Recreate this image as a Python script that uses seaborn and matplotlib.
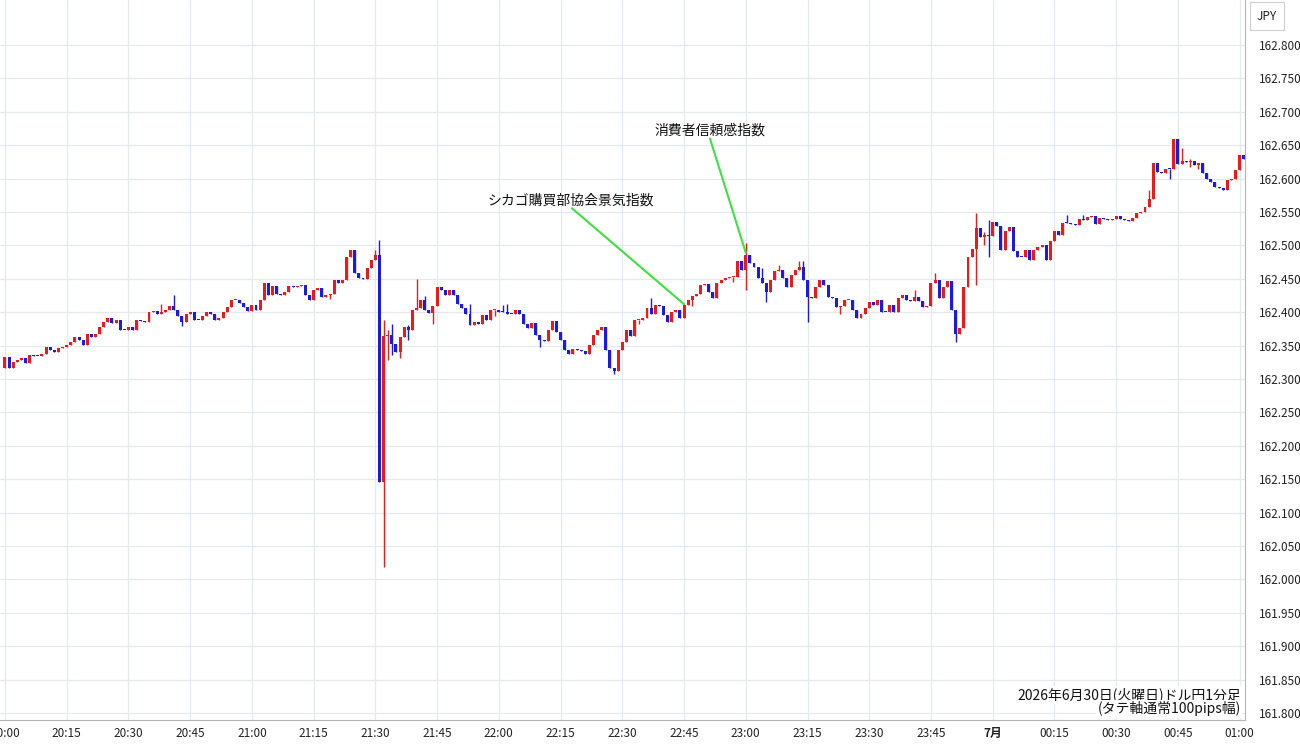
import numpy as np
import pandas as pd
import matplotlib
matplotlib.use("Agg")
import matplotlib.pyplot as plt
import seaborn as sns

# USD/JPY 1-minute candles, 2026-06-30 20:00 -> 07-01 01:01
first_open = 162.316
closes = [
    162.333, 162.316, 162.326, 162.328, 162.331, 162.324, 162.336, 162.335, 162.334, 162.338,
    162.348, 162.343, 162.341, 162.346, 162.348, 162.351, 162.356, 162.363, 162.358, 162.351,
    162.368, 162.363, 162.368, 162.378, 162.386, 162.391, 162.384, 162.389, 162.374, 162.373,
    162.378, 162.373, 162.388, 162.387, 162.386, 162.401, 162.402, 162.397, 162.400, 162.403,
    162.409, 162.403, 162.394, 162.386, 162.398, 162.400, 162.389, 162.388, 162.395, 162.401,
    162.398, 162.389, 162.391, 162.401, 162.408, 162.418, 162.419, 162.414, 162.408, 162.402,
    162.411, 162.403, 162.418, 162.443, 162.426, 162.439, 162.428, 162.426, 162.431, 162.439,
    162.438, 162.439, 162.441, 162.426, 162.418, 162.433, 162.436, 162.423, 162.426, 162.428,
    162.448, 162.443, 162.448, 162.483, 162.493, 162.458, 162.451, 162.450, 162.466, 162.478,
    162.486, 162.146, 162.364, 162.366, 162.353, 162.341, 162.363, 162.378, 162.373, 162.404,
    162.406, 162.419, 162.404, 162.399, 162.409, 162.438, 162.433, 162.426, 162.433, 162.426,
    162.413, 162.406, 162.398, 162.381, 162.386, 162.383, 162.396, 162.388, 162.403, 162.404,
    162.401, 162.400, 162.398, 162.397, 162.403, 162.398, 162.383, 162.376, 162.384, 162.366,
    162.358, 162.357, 162.373, 162.387, 162.371, 162.358, 162.343, 162.338, 162.345, 162.343,
    162.342, 162.338, 162.351, 162.366, 162.373, 162.378, 162.343, 162.316, 162.312, 162.343,
    162.356, 162.373, 162.364, 162.388, 162.389, 162.391, 162.406, 162.398, 162.411, 162.410,
    162.396, 162.386, 162.401, 162.403, 162.392, 162.411, 162.418, 162.424, 162.428, 162.441,
    162.442, 162.431, 162.421, 162.443, 162.448, 162.451, 162.452, 162.453, 162.476, 162.463,
    162.486, 162.473, 162.468, 162.451, 162.443, 162.431, 162.448, 162.461, 162.463, 162.451,
    162.438, 162.456, 162.463, 162.468, 162.448, 162.423, 162.421, 162.438, 162.448, 162.441,
    162.423, 162.421, 162.408, 162.409, 162.418, 162.419, 162.403, 162.391, 162.398, 162.406,
    162.416, 162.411, 162.418, 162.401, 162.400, 162.411, 162.401, 162.421, 162.426, 162.418,
    162.417, 162.423, 162.417, 162.408, 162.409, 162.443, 162.448, 162.421, 162.438, 162.446,
    162.403, 162.368, 162.376, 162.438, 162.483, 162.494, 162.526, 162.513, 162.516, 162.514,
    162.535, 162.529, 162.493, 162.521, 162.528, 162.491, 162.483, 162.482, 162.493, 162.478,
    162.493, 162.498, 162.500, 162.478, 162.506, 162.521, 162.516, 162.534, 162.533, 162.532,
    162.531, 162.539, 162.538, 162.543, 162.544, 162.532, 162.541, 162.539, 162.538, 162.540,
    162.544, 162.539, 162.538, 162.537, 162.541, 162.548, 162.550, 162.557, 162.570, 162.623,
    162.610, 162.609, 162.615, 162.614, 162.660, 162.622, 162.627, 162.625, 162.627, 162.620,
    162.623, 162.608, 162.600, 162.595, 162.587, 162.586, 162.583, 162.598, 162.600, 162.613,
    162.635, 162.630,
]

# candles whose wicks reach beyond the body (nan = no extra wick on that side)
nan = np.nan
wick_idx = [38, 41, 43, 79, 90, 91, 92, 93, 94, 96, 98, 100, 102, 104, 113, 119, 121, 122,
            130, 148, 149, 154, 157, 167, 177, 180, 184, 185, 188, 193, 194, 195, 203, 221,
            226, 231, 236, 238, 239, 258, 262, 278, 280, 283, 286, 288, 290]
wick_high = [162.413, 162.426, nan, nan, 162.493, 162.508, 162.389, 162.373, 162.383, nan,
             162.381, 162.449, 162.425, nan, 162.413, nan, 162.411, 162.412,
             nan, nan, nan, nan, 162.421, nan, nan, 162.503, 162.466, nan, 162.470, 162.476,
             162.476, nan, nan, 162.433,
             162.458, nan, 162.548, 162.520, 162.538, 162.546, 162.546, 162.583, 162.623, nan,
             162.646, 162.630, nan]
wick_low = [nan, nan, 162.379, 162.420, nan, nan, 162.018, 162.328, 162.336, 162.331,
            162.358, nan, nan, 162.383, nan, 162.395, nan, nan,
            162.348, 162.308, 162.335, 162.383, nan, 162.410, 162.445, 162.433, nan, 162.416,
            nan, nan, nan, 162.386, 162.398, nan,
            nan, 162.356, 162.441, 162.500, 162.483, nan, nan, nan, nan, 162.599,
            nan, 162.618, 162.615]

time_ticks = list(range(0, 301, 15))
time_labels = ["20:00", "20:15", "20:30", "20:45", "21:00", "21:15", "21:30", "21:45",
               "22:00", "22:15", "22:30", "22:45", "23:00", "23:15", "23:30", "23:45",
               "7月", "00:15", "00:30", "00:45", "01:00"]
price_ticks = np.round(np.arange(161.80, 162.801, 0.05), 3)

event_labels = ["シカゴ購買部協会景気指数", "消費者信頼感指数"]
event_idx = [165, 180]
event_price = [162.412, 162.489]
event_text_idx = [137.5, 171.2]
event_text_price = [162.557, 162.662]

note_lines = ["2026年6月30日(火曜日)ドル円1分足", "(タテ軸通常100pips幅)"]

RED = "#ea1a1a"
BLUE = "#1a1ae0"

df = pd.DataFrame({"close": closes})
df["open"] = df["close"].shift(1).fillna(first_open)
df["high"] = df[["open", "close"]].max(axis=1)
df["low"] = df[["open", "close"]].min(axis=1)
for i, h, l in zip(wick_idx, wick_high, wick_low):
    if not np.isnan(h):
        df.loc[i, "high"] = max(df.loc[i, "high"], h)
    if not np.isnan(l):
        df.loc[i, "low"] = min(df.loc[i, "low"], l)
df["color"] = np.where(df["close"] >= df["open"], RED, BLUE)

sns.set_theme(style="white")
plt.rcParams["font.family"] = ["Noto Sans CJK JP", "DejaVu Sans"]

fig = plt.figure(figsize=(13, 7.45), dpi=100)
ax = fig.add_axes([0, 25 / 745, 1245 / 1300, 720 / 745])

ax.vlines(df.index, df["low"], df["high"], colors=df["color"], linewidth=1)
body = (df["close"] - df["open"]).abs().clip(lower=0.0015)
ax.bar(df.index, body, bottom=df[["open", "close"]].min(axis=1), width=0.72,
       color=df["color"], linewidth=0)

ax.set_xlim(-1.2, 301.3)
ax.set_ylim(161.7895, 162.8674)
ax.set_xticks(time_ticks)
ax.set_xticklabels(time_labels)
ax.set_yticks(price_ticks)
ax.set_yticklabels(["%.3f" % p for p in price_ticks])
ax.yaxis.tick_right()
ax.tick_params(axis="both", length=0, labelsize=8.5, labelcolor="#222222")
ax.tick_params(axis="y", pad=10)
ax.tick_params(axis="x", pad=5)
ax.get_xticklabels()[16].set_fontweight("bold")

ax.grid(True, color="#e4e9ef", linewidth=0.9)
ax.set_axisbelow(True)
for s in ["left", "top"]:
    ax.spines[s].set_visible(False)
for s in ["right", "bottom"]:
    ax.spines[s].set_color("#b5b5b5")
    ax.spines[s].set_linewidth(0.8)

for lab, xi, yp, tx, ty in zip(event_labels, event_idx, event_price,
                               event_text_idx, event_text_price):
    ax.annotate(lab, xy=(xi, yp), xytext=(tx, ty), ha="center", va="bottom",
                fontsize=10, color="#111111",
                arrowprops=dict(arrowstyle="-", color="#3fe03f", linewidth=1.5,
                                relpos=(0.5, 0.0), patchA=None, shrinkA=1, shrinkB=0))

ax.text(1241 / 1245, (720 - 695) / 720, note_lines[0], transform=ax.transAxes,
        ha="right", va="center", fontsize=10, color="#111111",
        bbox=dict(boxstyle="square,pad=0.1", fc="white", ec="none"))
ax.text(1241 / 1245, (720 - 709) / 720, note_lines[1], transform=ax.transAxes,
        ha="right", va="center", fontsize=10, color="#111111",
        bbox=dict(boxstyle="square,pad=0.1", fc="white", ec="none"))

fig.text(1267 / 1300, 1 - 16 / 745, "JPY", ha="center", va="center", fontsize=8.5,
         color="#222222",
         bbox=dict(boxstyle="square,pad=0.6", fc="white", ec="#cfcfcf", linewidth=0.8))

fig.savefig("out.png", dpi=100)
